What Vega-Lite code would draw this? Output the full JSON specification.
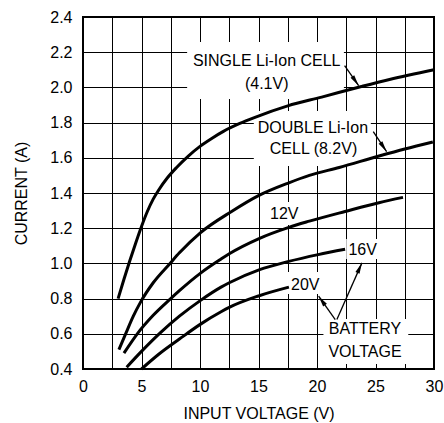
{
  "$schema": "https://vega.github.io/schema/vega-lite/v6.json",
  "width": 351,
  "height": 352,
  "autosize": {"type": "none"},
  "padding": {"left": 83, "top": 17, "right": 10, "bottom": 54},
  "background": "white",
  "config": {
    "view": {"stroke": "black", "strokeWidth": 2},
    "axis": {
      "grid": true, "gridColor": "black", "gridOpacity": 1, "gridWidth": 1,
      "domain": false, "ticks": false,
      "labelFont": "Liberation Sans", "labelFontSize": 16, "labelColor": "black",
      "titleFont": "Liberation Sans", "titleFontSize": 16, "titleFontWeight": "normal", "titleColor": "black"
    }
  },
  "datasets": {
    "curves": [
      {"series": "4.1V", "v": 3.0, "i": 0.80}, {"series": "4.1V", "v": 3.5, "i": 0.91}, {"series": "4.1V", "v": 4.0, "i": 1.015},
      {"series": "4.1V", "v": 4.5, "i": 1.115}, {"series": "4.1V", "v": 5.0, "i": 1.21}, {"series": "4.1V", "v": 5.5, "i": 1.295},
      {"series": "4.1V", "v": 6.0, "i": 1.365}, {"series": "4.1V", "v": 6.5, "i": 1.42}, {"series": "4.1V", "v": 7.2, "i": 1.485},
      {"series": "4.1V", "v": 8.0, "i": 1.545}, {"series": "4.1V", "v": 9.0, "i": 1.61}, {"series": "4.1V", "v": 10.0, "i": 1.665},
      {"series": "4.1V", "v": 11.0, "i": 1.71}, {"series": "4.1V", "v": 12.0, "i": 1.75}, {"series": "4.1V", "v": 13.4, "i": 1.795},
      {"series": "4.1V", "v": 14.7, "i": 1.83}, {"series": "4.1V", "v": 17.5, "i": 1.895}, {"series": "4.1V", "v": 20.4, "i": 1.945},
      {"series": "4.1V", "v": 23.8, "i": 2.005}, {"series": "4.1V", "v": 26.2, "i": 2.045}, {"series": "4.1V", "v": 30.0, "i": 2.10},
      {"series": "8.2V", "v": 3.07, "i": 0.51}, {"series": "8.2V", "v": 3.68, "i": 0.605}, {"series": "8.2V", "v": 4.3, "i": 0.70},
      {"series": "8.2V", "v": 4.92, "i": 0.78}, {"series": "8.2V", "v": 6.0, "i": 0.89}, {"series": "8.2V", "v": 7.44, "i": 1.00},
      {"series": "8.2V", "v": 8.24, "i": 1.06}, {"series": "8.2V", "v": 10.05, "i": 1.175}, {"series": "8.2V", "v": 12.7, "i": 1.295},
      {"series": "8.2V", "v": 15.0, "i": 1.385}, {"series": "8.2V", "v": 17.6, "i": 1.458}, {"series": "8.2V", "v": 19.35, "i": 1.50},
      {"series": "8.2V", "v": 21.9, "i": 1.545}, {"series": "8.2V", "v": 25.3, "i": 1.61}, {"series": "8.2V", "v": 27.5, "i": 1.65},
      {"series": "8.2V", "v": 29.9, "i": 1.69},
      {"series": "12V", "v": 3.5, "i": 0.49}, {"series": "12V", "v": 4.64, "i": 0.60}, {"series": "12V", "v": 6.0, "i": 0.705},
      {"series": "12V", "v": 7.5, "i": 0.80}, {"series": "12V", "v": 8.24, "i": 0.845}, {"series": "12V", "v": 10.05, "i": 0.945},
      {"series": "12V", "v": 11.8, "i": 1.025}, {"series": "12V", "v": 12.5, "i": 1.055}, {"series": "12V", "v": 15.0, "i": 1.14},
      {"series": "12V", "v": 17.6, "i": 1.205}, {"series": "12V", "v": 19.35, "i": 1.24}, {"series": "12V", "v": 22.4, "i": 1.295},
      {"series": "12V", "v": 25.3, "i": 1.345}, {"series": "12V", "v": 27.35, "i": 1.375},
      {"series": "16V", "v": 3.73, "i": 0.41}, {"series": "16V", "v": 5.0, "i": 0.50}, {"series": "16V", "v": 6.6, "i": 0.605},
      {"series": "16V", "v": 8.24, "i": 0.70}, {"series": "16V", "v": 10.05, "i": 0.79}, {"series": "16V", "v": 11.8, "i": 0.865},
      {"series": "16V", "v": 12.5, "i": 0.89}, {"series": "16V", "v": 15.1, "i": 0.965}, {"series": "16V", "v": 17.5, "i": 1.01},
      {"series": "16V", "v": 20.1, "i": 1.05}, {"series": "16V", "v": 22.4, "i": 1.08},
      {"series": "20V", "v": 5.0, "i": 0.40}, {"series": "20V", "v": 6.5, "i": 0.485}, {"series": "20V", "v": 8.24, "i": 0.57},
      {"series": "20V", "v": 10.05, "i": 0.655}, {"series": "20V", "v": 11.8, "i": 0.725}, {"series": "20V", "v": 12.5, "i": 0.75},
      {"series": "20V", "v": 15.0, "i": 0.815}, {"series": "20V", "v": 17.6, "i": 0.865}
    ],
    "boxes": [
      {"v": 8.9, "v2": 22.3, "i": 1.934, "i2": 2.258},
      {"v": 14.6, "v2": 24.6, "i": 1.553, "i2": 1.866},
      {"v": 15.5, "v2": 18.75, "i": 1.218, "i2": 1.349},
      {"v": 22.5, "v2": 25.4, "i": 1.025, "i2": 1.139},
      {"v": 17.45, "v2": 20.45, "i": 0.826, "i2": 0.951},
      {"v": 20.55, "v2": 27.8, "i": 0.428, "i2": 0.684}
    ],
    "arrows": [
      {"id": "single", "v": 22.36, "i": 2.124, "v2": 23.56, "i2": 2.01},
      {"id": "double", "v": 24.81, "i": 1.749, "v2": 25.95, "i2": 1.635},
      {"id": "b20", "v": 21.56, "i": 0.681, "v2": 20.14, "i2": 0.814},
      {"id": "b16", "v": 21.70, "i": 0.681, "v2": 23.84, "i2": 1.003}
    ],
    "tips": [
      {"id": "single", "v": 23.56, "i": 2.01},
      {"id": "double", "v": 25.95, "i": 1.635},
      {"id": "b20", "v": 20.14, "i": 0.814},
      {"id": "b16", "v": 23.84, "i": 1.003}
    ],
    "labels": [
      {"text": "SINGLE Li-Ion CELL", "v": 15.7, "i": 2.15},
      {"text": "(4.1V)", "v": 15.7, "i": 2.02},
      {"text": "DOUBLE Li-Ion", "v": 19.65, "i": 1.77},
      {"text": "CELL (8.2V)", "v": 19.7, "i": 1.65},
      {"text": "12V", "v": 17.2, "i": 1.28},
      {"text": "16V", "v": 23.9, "i": 1.076},
      {"text": "20V", "v": 19.0, "i": 0.88},
      {"text": "BATTERY", "v": 24.1, "i": 0.625},
      {"text": "VOLTAGE", "v": 24.1, "i": 0.498}
    ]
  },
  "encoding": {
    "x": {
      "field": "v", "type": "quantitative",
      "scale": {"domain": [0, 30], "nice": false, "zero": false},
      "axis": {
        "title": "INPUT VOLTAGE (V)",
        "values": [0, 2.5, 5, 7.5, 10, 12.5, 15, 17.5, 20, 22.5, 25, 27.5, 30],
        "labelExpr": "datum.value % 5 === 0 ? datum.label : ''",
        "labelFlush": false, "labelOverlap": false,
        "labelPadding": 9, "titlePadding": 11
      }
    },
    "y": {
      "field": "i", "type": "quantitative",
      "scale": {"domain": [0.4, 2.4], "nice": false, "zero": false},
      "axis": {
        "title": "CURRENT (A)",
        "values": [0.4, 0.6, 0.8, 1.0, 1.2, 1.4, 1.6, 1.8, 2.0, 2.2, 2.4],
        "format": ".1f", "labelPadding": 11, "titlePadding": 20
      }
    }
  },
  "layer": [
    {
      "data": {"name": "boxes"},
      "mark": {"type": "rect", "fill": "white", "stroke": null},
      "encoding": {"x2": {"field": "v2"}, "y2": {"field": "i2"}}
    },
    {
      "data": {"name": "curves"},
      "mark": {"type": "line", "color": "black", "strokeWidth": 3, "interpolate": "monotone", "strokeCap": "butt"},
      "encoding": {"detail": {"field": "series"}}
    },
    {
      "data": {"name": "arrows"},
      "mark": {"type": "rule", "color": "black", "strokeWidth": 1.3},
      "encoding": {"x2": {"field": "v2"}, "y2": {"field": "i2"}}
    },
    {
      "data": {"name": "tips"},
      "transform": [{"filter": "datum.id === 'single'"}],
      "mark": {"type": "point", "shape": "M0,0L0.45,2.2L-0.45,2.2Z", "size": 100, "filled": true, "color": "black", "opacity": 1, "angle": 145.4},
      "encoding": {}
    },
    {
      "data": {"name": "tips"},
      "transform": [{"filter": "datum.id === 'double'"}],
      "mark": {"type": "point", "shape": "M0,0L0.45,2.2L-0.45,2.2Z", "size": 100, "filled": true, "color": "black", "opacity": 1, "angle": 146.2},
      "encoding": {}
    },
    {
      "data": {"name": "tips"},
      "transform": [{"filter": "datum.id === 'b20'"}],
      "mark": {"type": "point", "shape": "M0,0L0.45,2.2L-0.45,2.2Z", "size": 100, "filled": true, "color": "black", "opacity": 1, "angle": -35.5},
      "encoding": {}
    },
    {
      "data": {"name": "tips"},
      "transform": [{"filter": "datum.id === 'b16'"}],
      "mark": {"type": "point", "shape": "M0,0L0.45,2.2L-0.45,2.2Z", "size": 100, "filled": true, "color": "black", "opacity": 1, "angle": 23.8},
      "encoding": {}
    },
    {
      "data": {"name": "labels"},
      "mark": {"type": "text", "font": "Liberation Sans", "fontSize": 16, "color": "black", "align": "center", "baseline": "middle"},
      "encoding": {"text": {"field": "text"}}
    }
  ]
}
